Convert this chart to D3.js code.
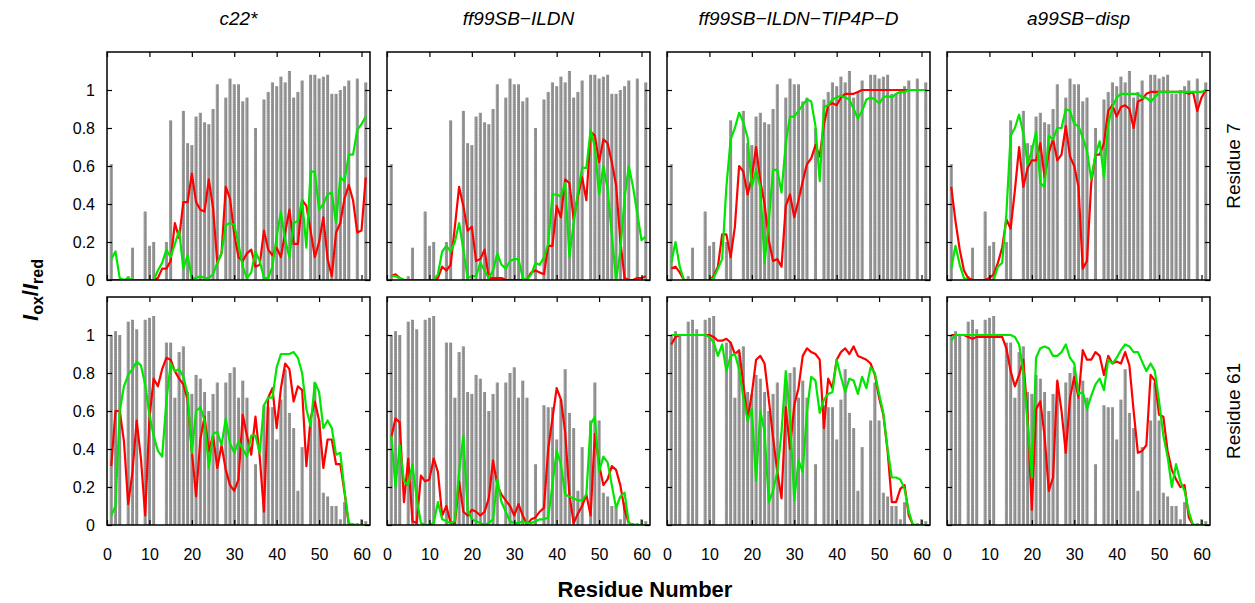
<!DOCTYPE html>
<html>
<head>
<meta charset="utf-8">
<script src="https://cdn.jsdelivr.net/npm/d3@7"></script>
<style>
  body { margin: 0; background: #fff; }
  text { font-family: "Liberation Sans", Arial, Helvetica, sans-serif; }
</style>
</head>
<body>
<script>
// residues 1..61, one value per residue (null = no data)
var residues = d3.range(1, 62);
var forceFields = ["c22*", "ff99SB\u2212ILDN", "ff99SB\u2212ILDN\u2212TIP4P\u2212D", "a99SB\u2212disp"];
var spinLabels = ["Residue 7", "Residue 61"];
var xTicks = [0, 10, 20, 30, 40, 50, 60];
var yTicks = [0, 0.2, 0.4, 0.6, 0.8, 1];

// experimental Iox/Ired (gray bars)
var expRes7 = [0.61, null, null, null, 0.02, 0.17, null, null, 0.36, 0.18,
  0.20, null, null, 0.20, 0.84, null, null, 0.89, 0.72, 0.71,
  0.86, 0.88, 0.83, 0.82, 0.90, 1.03, null, 0.96, 1.06, 1.03,
  1.03, 0.94, 0.96, null, 0.80, null, 0.95, 0.99, 1.04, 1.02,
  1.07, 1.04, 1.10, 0.96, 0.99, 1.05, null, 1.08, 1.08, 1.06,
  1.07, 1.08, 0.98, 0.98, 1.00, 1.02, 1.05, null, 1.06, null, 1.04];
var expRes61 = [1.00, 1.02, 1.00, null, 1.07, 1.08, 1.03, null, 1.08, 1.09,
  1.10, null, null, 0.96, 0.96, 0.67, 0.91, 0.94, 0.70, 0.69,
  0.79, 0.77, 0.70, 0.60, 0.69, 0.75, null, 0.75, 0.80, 0.83,
  0.67, 0.76, 0.67, null, 0.32, null, 0.63, 0.62, 0.62, 0.45,
  0.66, 0.82, 0.59, 0.51, 0.18, 0.41, null, 0.55, 0.75, 0.55,
  0.17, 0.15, 0.10, 0.10, 0.03, 0.12, null, 0.01, 0.01, 0.03, 0.02];

// simulated, Residue 7
var red_c22_r7 = [0, 0, 0, 0, 0, 0, 0, 0, 0, 0,
  0, 0.01, 0.06, 0.06, 0.10, 0.30, 0.22, 0.41, 0.41, 0.56,
  0.41, 0.37, 0.36, 0.53, 0.38, 0.09, 0.14, 0.49, 0.43, 0.24,
  0.12, 0.10, 0.14, 0.16, 0.07, 0.08, 0.26, 0.16, 0.13, 0.17,
  0.12, 0.25, 0.37, 0.19, 0.19, 0.42, 0.39, 0.26, 0.12, 0.20,
  0.33, 0.11, 0.02, 0.25, 0.30, 0.43, 0.50, 0.42, 0.25, 0.26, 0.54];
var green_c22_r7 = [0.11, 0.15, 0.01, 0, 0.01, 0, 0, 0, 0, 0,
  0, 0.05, 0.09, 0.16, 0.12, 0.19, 0.26, 0.06, 0.13, 0.01,
  0.01, 0.02, 0.01, 0.01, 0.03, 0.09, 0.14, 0.29, 0.30, 0.29,
  0.19, 0.07, 0.01, 0.04, 0.15, 0.10, 0.01, 0.01, 0.07, 0.23,
  0.36, 0.21, 0.12, 0.30, 0.31, 0.42, 0.17, 0.57, 0.57, 0.37,
  0.40, 0.45, 0.46, 0.30, 0.54, 0.52, 0.66, 0.66, 0.79, 0.82, 0.86];
var red_ildn_r7 = [0.02, 0.03, 0.01, 0, 0, 0, 0, 0, 0, 0,
  0, 0.01, 0.07, 0.05, 0.08, 0.28, 0.49, 0.39, 0.26, 0.28,
  0.10, 0.11, 0.16, 0.01, 0.01, 0.01, 0.01, 0, 0, 0,
  0, 0, 0, 0.04, 0.05, 0.04, 0.03, 0.18, 0.18, 0.39,
  0.33, 0.53, 0.51, 0.32, 0.44, 0.54, 0.42, 0.78, 0.76, 0.62,
  0.74, 0.72, 0.62, 0.50, 0.21, 0.01, 0, 0, 0.01, 0.01, 0.02];
var green_ildn_r7 = [0.02, 0.02, 0.01, 0, 0, 0, 0, 0, 0, 0,
  0, 0.03, 0.15, 0.18, 0.15, 0.20, 0.30, 0.16, 0.01, 0.02,
  0.02, 0.09, 0.05, 0.01, 0.05, 0.14, 0.08, 0.06, 0.10, 0.11,
  0.11, 0.01, 0, 0.03, 0.09, 0.08, 0.12, 0.19, 0.45, 0.45,
  0.44, 0.51, 0.12, 0.30, 0.46, 0.59, 0.59, 0.79, 0.70, 0.45,
  0.60, 0.48, 0.24, 0, 0.15, 0.43, 0.60, 0.49, 0.35, 0.21, 0.23];
var red_tip4pd_r7 = [0.06, 0.07, 0.04, 0, 0, 0, 0, 0, 0, 0,
  0.02, 0.07, 0.24, 0.24, 0.12, 0.28, 0.60, 0.57, 0.45, 0.54,
  0.70, 0.52, 0.40, 0.21, 0.10, 0.11, 0.07, 0.39, 0.45, 0.33,
  0.42, 0.52, 0.61, 0.64, 0.71, 0.65, 0.82, 0.92, 0.93, 0.92,
  0.96, 0.98, 0.98, 0.98, 0.99, 1.00, 1.00, 1.00, 1.00, 1.00,
  1.00, 1.00, 1.00, 1.00, 1.00, 1.00, 1.00, 1.00, 1.00, 1.00, 1.00];
var green_tip4pd_r7 = [0.09, 0.20, 0.07, 0, 0, 0, 0, 0, 0, 0,
  0.01, 0.06, 0.11, 0.49, 0.74, 0.80, 0.88, 0.83, 0.75, 0.49,
  0.58, 0.49, 0.09, 0.31, 0.58, 0.58, 0.46, 0.72, 0.86, 0.86,
  0.89, 0.92, 0.95, 0.94, 0.81, 0.52, 0.91, 0.92, 0.95, 0.96,
  0.97, 0.96, 0.95, 0.90, 0.85, 0.89, 0.95, 0.96, 0.95, 0.93,
  0.96, 0.97, 0.96, 0.98, 0.99, 0.99, 1.00, 1.00, 1.00, 1.00, 1.00];
var red_disp_r7 = [0.49, 0.31, 0.16, 0.05, 0.01, 0, 0, 0, 0, 0.01,
  0.03, 0.09, 0.17, 0.32, 0.27, 0.47, 0.70, 0.49, 0.59, 0.63,
  0.63, 0.72, 0.54, 0.67, 0.74, 0.63, 0.66, 0.81, 0.65, 0.60,
  0.49, 0.06, 0.10, 0.51, 0.66, 0.66, 0.72, 0.89, 0.92, 0.86,
  0.91, 0.92, 0.90, 0.80, 0.94, 0.95, 0.98, 0.99, 0.99, 0.99,
  0.99, 0.99, 0.99, 0.99, 0.99, 0.99, 0.98, 0.99, 0.89, 0.96, 1.00];
var green_disp_r7 = [0.06, 0.18, 0.08, 0.01, 0, 0, 0, 0, 0, 0,
  0, 0.07, 0.09, 0.35, 0.76, 0.80, 0.87, 0.77, 0.61, 0.68,
  0.78, 0.51, 0.49, 0.76, 0.74, 0.80, 0.80, 0.90, 0.89, 0.82,
  0.81, 0.75, 0.68, 0.53, 0.66, 0.73, 0.54, 0.82, 0.91, 0.96,
  0.98, 0.98, 0.98, 0.98, 0.98, 0.96, 0.96, 0.94, 0.96, 0.99,
  0.99, 0.99, 0.99, 0.99, 0.99, 0.99, 0.99, 0.99, 0.99, 0.99, 1.00];

// simulated, Residue 61
var red_c22_r61 = [0.31, 0.60, 0.60, 0.44, 0.11, 0.28, 0.55, 0.35, 0.05, 0.56,
  0.77, 0.73, 0.82, 0.88, 0.87, 0.81, 0.77, 0.74, 0.66, 0.39,
  0.15, 0.45, 0.57, 0.39, 0.47, 0.30, 0.42, 0.29, 0.21, 0.18,
  0.24, 0.58, 0.47, 0.37, 0.57, 0.36, 0.07, 0.67, 0.72, 0.51,
  0.72, 0.85, 0.82, 0.65, 0.73, 0.71, 0.31, 0.56, 0.65, 0.55,
  0.30, 0.45, 0.45, 0.32, 0.32, 0.17, 0, 0, 0, 0, 0];
var green_c22_r61 = [0.05, 0.10, 0.60, 0.73, 0.79, 0.82, 0.86, 0.84, 0.74, 0.58,
  0.47, 0.39, 0.36, 0.65, 0.85, 0.81, 0.82, 0.78, 0.69, 0.38,
  0.60, 0.62, 0.55, 0.30, 0.48, 0.49, 0.42, 0.56, 0.43, 0.38,
  0.44, 0.40, 0.36, 0.47, 0.47, 0.38, 0.63, 0.67, 0.67, 0.83,
  0.90, 0.90, 0.90, 0.91, 0.88, 0.80, 0.61, 0.52, 0.75, 0.70,
  0.51, 0.55, 0.51, 0.37, 0.38, 0.18, 0.01, 0, 0, 0, 0];
var red_ildn_r61 = [0.46, 0.56, 0.54, 0.12, 0.35, 0.02, 0.01, 0.26, 0.23, 0.24,
  0.35, 0.28, 0.05, 0.10, 0.01, 0.01, 0.23, 0.07, 0.05, 0.08,
  0.07, 0.05, 0.07, 0.14, 0.34, 0.21, 0.16, 0.13, 0.10, 0.05,
  0.11, 0.05, 0, 0.03, 0.04, 0.07, 0.09, 0.40, 0.56, 0.72,
  0.66, 0.49, 0.16, 0.01, 0.06, 0.10, 0.16, 0.05, 0.48, 0.32,
  0.21, 0.24, 0.31, 0.29, 0.21, 0.08, 0.01, 0, 0, 0, 0];
var green_ildn_r61 = [0.47, 0.20, 0.42, 0.23, 0.21, 0.32, 0.14, 0.01, 0, 0,
  0.01, 0.12, 0.03, 0.02, 0.01, 0.02, 0.28, 0.47, 0.08, 0.03,
  0.02, 0.01, 0, 0.01, 0.03, 0.24, 0.12, 0.07, 0.02, 0.01,
  0.01, 0.02, 0.01, 0.01, 0.02, 0.03, 0.03, 0.04, 0.21, 0.39,
  0.32, 0.16, 0.15, 0.14, 0.13, 0.13, 0.16, 0.53, 0.57, 0.28,
  0.36, 0.33, 0.21, 0.09, 0.15, 0.17, 0.01, 0, 0, 0, 0];
var red_tip4pd_r61 = [0.95, 0.99, 1.00, 1.00, 1.00, 1.00, 1.00, 1.00, 1.00, 1.00,
  0.99, 0.97, 0.97, 0.98, 0.96, 0.90, 0.92, 0.74, 0.56, 0.69,
  0.87, 0.89, 0.85, 0.66, 0.46, 0.28, 0.14, 0.62, 0.40, 0.63,
  0.72, 0.89, 0.93, 0.91, 0.90, 0.87, 0.51, 0.77, 0.72, 0.87,
  0.91, 0.93, 0.90, 0.94, 0.89, 0.88, 0.87, 0.85, 0.79, 0.67,
  0.58, 0.39, 0.12, 0.12, 0.19, 0.21, 0.05, 0, 0, 0, 0];
var green_tip4pd_r61 = [1.00, 1.00, 1.00, 1.00, 1.00, 1.00, 1.00, 1.00, 1.00, 0.99,
  0.96, 0.89, 0.95, 0.81, 0.89, 0.90, 0.82, 0.67, 0.55, 0.61,
  0.23, 0.60, 0.49, 0.12, 0.18, 0.28, 0.49, 0.81, 0.57, 0.13,
  0.34, 0.28, 0.60, 0.78, 0.76, 0.59, 0.66, 0.69, 0.70, 0.87,
  0.78, 0.70, 0.77, 0.76, 0.69, 0.78, 0.72, 0.83, 0.80, 0.69,
  0.59, 0.40, 0.25, 0.25, 0.24, 0.19, 0.07, 0, 0, 0, 0];
var red_disp_r61 = [1.00, 1.00, 1.00, 1.00, 0.99, 0.98, 0.99, 0.99, 0.99, 0.99,
  0.99, 0.99, 0.99, 0.93, 0.81, 0.73, 0.79, 0.87, 0.57, 0.08,
  0.61, 0.65, 0.47, 0.18, 0.25, 0.76, 0.60, 0.38, 0.67, 0.78,
  0.67, 0.92, 0.87, 0.87, 0.91, 0.89, 0.79, 0.89, 0.85, 0.86,
  0.85, 0.91, 0.84, 0.60, 0.38, 0.39, 0.42, 0.79, 0.76, 0.58,
  0.57, 0.39, 0.29, 0.24, 0.20, 0.21, 0.04, 0, 0, 0, 0];
var green_disp_r61 = [0.97, 1.00, 1.00, 1.00, 1.00, 1.00, 1.00, 1.00, 1.00, 1.00,
  1.00, 1.00, 1.00, 1.00, 1.00, 0.99, 0.95, 0.81, 0.53, 0.25,
  0.88, 0.93, 0.94, 0.93, 0.89, 0.89, 0.91, 0.95, 0.88, 0.85,
  0.69, 0.70, 0.61, 0.68, 0.74, 0.77, 0.71, 0.87, 0.85, 0.88,
  0.92, 0.95, 0.94, 0.91, 0.91, 0.86, 0.81, 0.85, 0.81, 0.65,
  0.47, 0.36, 0.20, 0.32, 0.23, 0.18, 0.07, 0, 0, 0, 0];

var rows = [
  { exp: expRes7,
    red: [red_c22_r7, red_ildn_r7, red_tip4pd_r7, red_disp_r7],
    green: [green_c22_r7, green_ildn_r7, green_tip4pd_r7, green_disp_r7] },
  { exp: expRes61,
    red: [red_c22_r61, red_ildn_r61, red_tip4pd_r61, red_disp_r61],
    green: [green_c22_r61, green_ildn_r61, green_tip4pd_r61, green_disp_r61] }
];

var width = 1255, height = 603;
var panelW = 263, panelH = 228;
var panelLeft = [107, 387, 667, 947];
var panelTop = [52, 297];

var svg = d3.select("body").append("svg")
    .attr("width", width)
    .attr("height", height);

rows.forEach(function (row, ri) {
    row.red.forEach(function (redVals, ci) {
        var x = d3.scaleLinear().domain([0, 62]).range([panelLeft[ci], panelLeft[ci] + panelW]);
        var y = d3.scaleLinear().domain([0, 1.2]).range([panelTop[ri] + panelH, panelTop[ri]]);
        var g = svg.append("g");
        var clipId = "clip" + ri + ci;

        g.append("clipPath").attr("id", clipId)
            .append("rect")
            .attr("x", panelLeft[ci]).attr("y", panelTop[ri])
            .attr("width", panelW).attr("height", panelH);

        var plot = g.append("g").attr("clip-path", "url(#" + clipId + ")");

        var bars = residues.map(function (r, i) { return { r: r, v: row.exp[i] }; })
            .filter(function (d) { return d.v != null; });

        // bars
        plot.selectAll("rect.bar")
            .data(bars)
            .enter().append("rect")
            .attr("class", "bar")
            .attr("x", d => x(d.r) - 1.5)
            .attr("width", 3)
            .attr("y", d => y(d.v))
            .attr("height", d => y(0) - y(d.v))
            .attr("fill", "#8c8c8c");

        // dotted error-bar texture
        plot.selectAll("line.err")
            .data(bars)
            .enter().append("line")
            .attr("class", "err")
            .attr("x1", d => x(d.r) - 0.8)
            .attr("x2", d => x(d.r) - 0.8)
            .attr("y1", d => y(0))
            .attr("y2", d => y(d.v))
            .attr("stroke", "#b4b4b4")
            .attr("stroke-width", 1)
            .attr("stroke-dasharray", "1,1.2");

        var line = d3.line()
            .x(d => x(d.r))
            .y(d => y(d.v));

        var redPts = residues.map(function (r, i) { return { r: r, v: redVals[i] }; });
        var greenPts = residues.map(function (r, i) { return { r: r, v: row.green[ci][i] }; });

        plot.append("path")
            .datum(redPts)
            .attr("d", line)
            .attr("fill", "none")
            .attr("stroke", "#ff0000")
            .attr("stroke-width", 2.2)
            .attr("stroke-linejoin", "round");

        plot.append("path")
            .datum(greenPts)
            .attr("d", line)
            .attr("fill", "none")
            .attr("stroke", "#00e600")
            .attr("stroke-width", 2.2)
            .attr("stroke-linejoin", "round");

        // inward ticks on all four sides
        var bottomAxis = d3.axisBottom(x).tickValues(xTicks).tickSize(-5).tickPadding(24);
        if (ri !== 1) bottomAxis.tickFormat("");
        g.append("g")
            .attr("transform", "translate(0," + y(0) + ")")
            .call(bottomAxis);

        g.append("g")
            .attr("transform", "translate(0," + y(1.2) + ")")
            .call(d3.axisTop(x).tickValues(xTicks).tickSize(-5).tickFormat(""));

        var leftAxis = d3.axisLeft(y).tickValues(yTicks).tickSize(-5).tickPadding(12)
            .tickFormat(d3.format(""));
        if (ci !== 0) leftAxis.tickFormat("");
        g.append("g")
            .attr("transform", "translate(" + x(0) + ",0)")
            .call(leftAxis);

        g.append("g")
            .attr("transform", "translate(" + x(62) + ",0)")
            .call(d3.axisRight(y).tickValues(yTicks).tickSize(-5).tickFormat(""));

        g.selectAll(".domain").remove();
        g.selectAll(".tick line").attr("stroke", "#000").attr("stroke-width", 1.2);
        g.selectAll(".tick text")
            .attr("font-size", 16)
            .attr("font-family", "Liberation Sans, Arial, sans-serif")
            .attr("fill", "#000");

        // frame
        g.append("rect")
            .attr("x", panelLeft[ci]).attr("y", panelTop[ri])
            .attr("width", panelW).attr("height", panelH)
            .attr("fill", "none")
            .attr("stroke", "#000")
            .attr("stroke-width", 1.5);

        if (ri === 0) {
            svg.append("text")
                .attr("x", panelLeft[ci] + panelW / 2)
                .attr("y", 25)
                .attr("text-anchor", "middle")
                .attr("font-size", 19)
                .attr("font-style", "italic")
                .text(forceFields[ci]);
        }
    });

    svg.append("text")
        .attr("transform", "translate(1240," + (panelTop[ri] + panelH / 2) + ") rotate(-90)")
        .attr("text-anchor", "middle")
        .attr("font-size", 19)
        .text(spinLabels[ri]);
});

// y axis title: I_ox / I_red
var yTitle = svg.append("text")
    .attr("transform", "translate(38,290) rotate(-90)")
    .attr("text-anchor", "middle")
    .attr("font-size", 22)
    .attr("font-weight", "bold");
yTitle.append("tspan").attr("font-style", "italic").text("I");
yTitle.append("tspan").attr("font-size", 16).attr("dy", 5).text("ox");
yTitle.append("tspan").attr("dy", -5).text("/");
yTitle.append("tspan").attr("font-style", "italic").text("I");
yTitle.append("tspan").attr("font-size", 16).attr("dy", 5).text("red");

svg.append("text")
    .attr("x", 645)
    .attr("y", 597)
    .attr("text-anchor", "middle")
    .attr("font-size", 22)
    .attr("font-weight", "bold")
    .text("Residue Number");
</script>
</body>
</html>
